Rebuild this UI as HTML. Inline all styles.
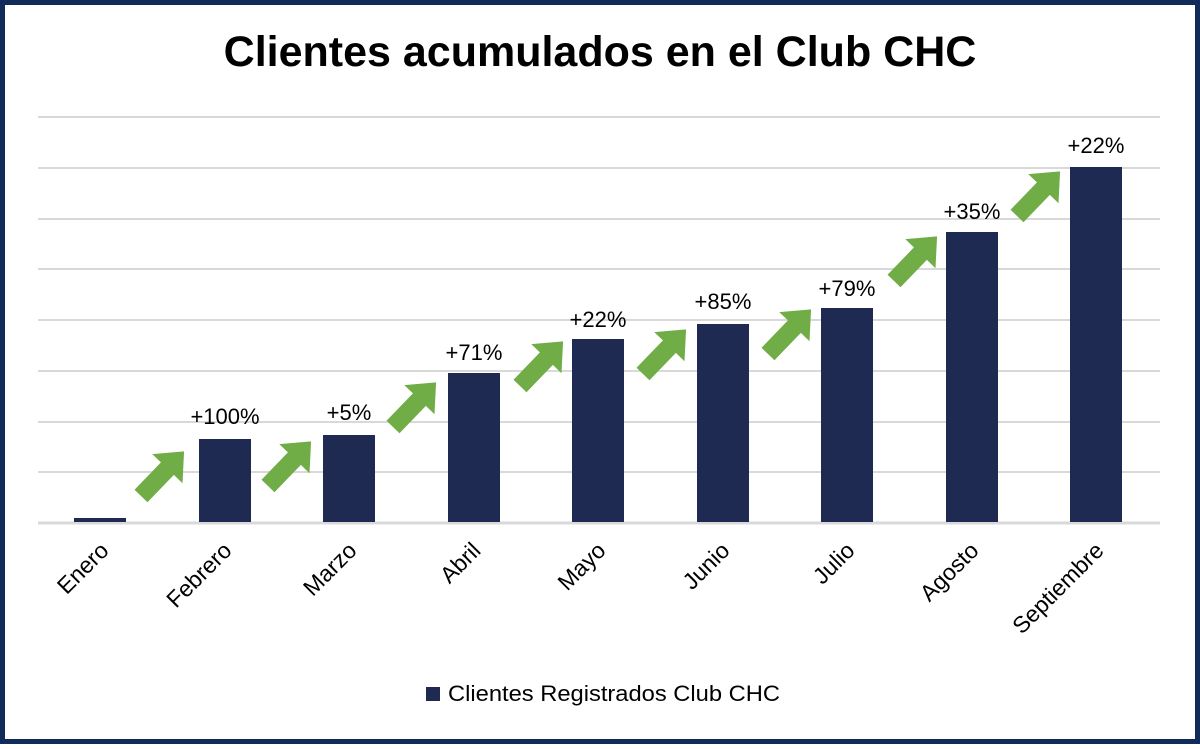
<!DOCTYPE html>
<html><head><style>
body{margin:0;width:1200px;height:744px;overflow:hidden;background:#fff}
</style></head><body>
<svg width="1200" height="744" xmlns="http://www.w3.org/2000/svg" font-family="Liberation Sans, sans-serif">
<rect x="2.5" y="2.5" width="1195" height="739" fill="#fff" stroke="#102a5a" stroke-width="5"/>
<text x="600" y="66" text-anchor="middle" font-size="43" font-weight="bold" fill="#000">Clientes acumulados en el Club CHC</text>
<g stroke="#d9d9d9" stroke-width="2">
<line x1="38" x2="1160" y1="117" y2="117"/><line x1="38" x2="1160" y1="168" y2="168"/>
<line x1="38" x2="1160" y1="219" y2="219"/><line x1="38" x2="1160" y1="269" y2="269"/>
<line x1="38" x2="1160" y1="320" y2="320"/><line x1="38" x2="1160" y1="371" y2="371"/>
<line x1="38" x2="1160" y1="422" y2="422"/><line x1="38" x2="1160" y1="472" y2="472"/>
<line x1="38" x2="1160" y1="523" y2="523" stroke-width="3"/>
</g>
<g fill="#1f2a52">
<rect x="74" y="518" width="52" height="4"/>
<rect x="199" y="439" width="52" height="83"/>
<rect x="323" y="435" width="52" height="87"/>
<rect x="448" y="373" width="52" height="149"/>
<rect x="572" y="339" width="52" height="183"/>
<rect x="697" y="324" width="52" height="198"/>
<rect x="821" y="308" width="52" height="214"/>
<rect x="946" y="232" width="52" height="290"/>
<rect x="1070" y="167" width="52" height="355"/>
</g>
<defs><polygon id="ar" points="0,-9 38,-9 38,-21 62,0 38,21 38,9 0,9" fill="#70ad47"/></defs>
<use href="#ar" transform="translate(141,496) rotate(-46)"/>
<use href="#ar" transform="translate(268,486) rotate(-46)"/>
<use href="#ar" transform="translate(393,427) rotate(-46)"/>
<use href="#ar" transform="translate(520,386) rotate(-46)"/>
<use href="#ar" transform="translate(643,374) rotate(-46)"/>
<use href="#ar" transform="translate(768,354) rotate(-46)"/>
<use href="#ar" transform="translate(894,281) rotate(-46)"/>
<use href="#ar" transform="translate(1017,216) rotate(-46)"/>
<g font-size="22" text-anchor="middle" fill="#000">
<text x="225" y="424">+100%</text>
<text x="349" y="420">+5%</text>
<text x="474" y="360">+71%</text>
<text x="598" y="327">+22%</text>
<text x="723" y="309">+85%</text>
<text x="847" y="296">+79%</text>
<text x="972" y="219">+35%</text>
<text x="1096" y="153">+22%</text>
</g>
<g font-size="23" text-anchor="end" fill="#000">
<text transform="translate(110,552) rotate(-45)">Enero</text>
<text transform="translate(233,552) rotate(-45)">Febrero</text>
<text transform="translate(358,552) rotate(-45)">Marzo</text>
<text transform="translate(482,552) rotate(-45)">Abril</text>
<text transform="translate(607,552) rotate(-45)">Mayo</text>
<text transform="translate(731,552) rotate(-45)">Junio</text>
<text transform="translate(856,552) rotate(-45)">Julio</text>
<text transform="translate(980,552) rotate(-45)">Agosto</text>
<text transform="translate(1105,552) rotate(-45)">Septiembre</text>
</g>
<rect x="426" y="687" width="14" height="14" fill="#1f2a52"/>
<text x="448" y="701" font-size="22.5" fill="#000" textLength="332" lengthAdjust="spacingAndGlyphs">Clientes Registrados Club CHC</text>
</svg>
</body></html>
